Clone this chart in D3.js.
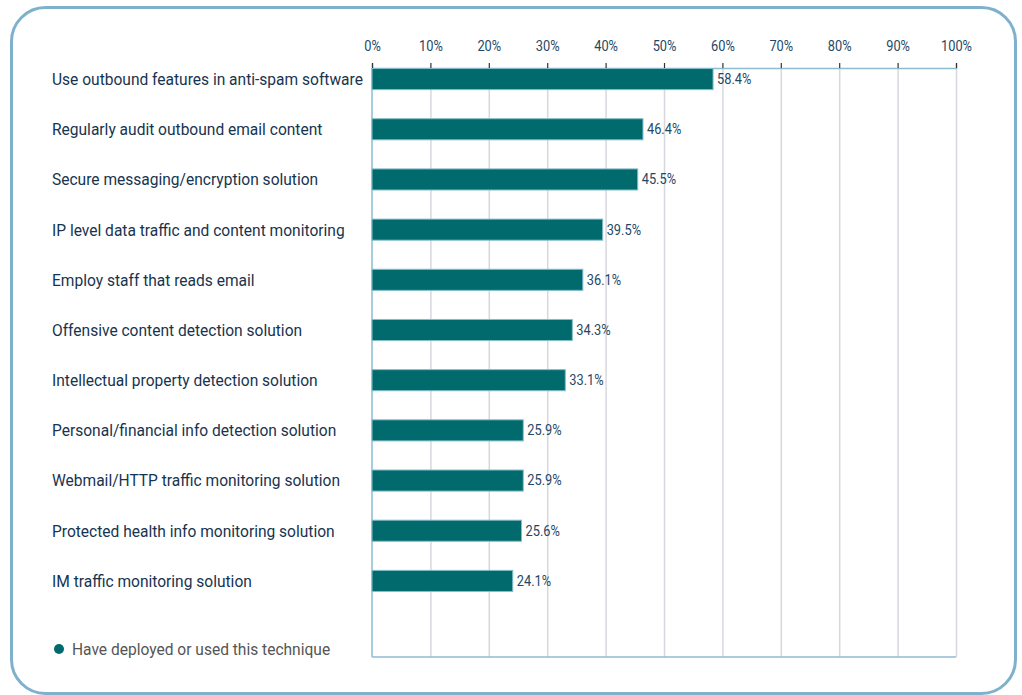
<!DOCTYPE html>
<html>
<head>
<meta charset="utf-8">
<script src="https://cdn.jsdelivr.net/npm/d3@7"></script>
<style>
  html, body { margin: 0; padding: 0; background: #ffffff; }
  svg { display: block; }
  text { font-family: Roboto, "Liberation Sans", sans-serif; }
</style>
</head>
<body>
<svg id="chart" width="1022" height="695"></svg>
<script>
// Outbound email protection techniques, share of respondents
const categories = [
  "Use outbound features in anti-spam software",
  "Regularly audit outbound email content",
  "Secure messaging/encryption solution",
  "IP level data traffic and content monitoring",
  "Employ staff that reads email",
  "Offensive content detection solution",
  "Intellectual property detection solution",
  "Personal/financial info detection solution",
  "Webmail/HTTP traffic monitoring solution",
  "Protected health info monitoring solution",
  "IM traffic monitoring solution"
];
const values = [58.4, 46.4, 45.5, 39.5, 36.1, 34.3, 33.1, 25.9, 25.9, 25.6, 24.1];
const tickValues = [0, 10, 20, 30, 40, 50, 60, 70, 80, 90, 100];
const legendLabel = "Have deployed or used this technique";

const svg = d3.select("#chart");
const squeeze = 0.915; // narrow the glyphs horizontally for a condensed look

// rounded frame
svg.append("rect")
  .attr("x", 11.5).attr("y", 7.5)
  .attr("width", 1004).attr("height", 686)
  .attr("rx", 34).attr("ry", 34)
  .attr("fill", "#ffffff")
  .attr("stroke", "#7fb1cd")
  .attr("stroke-width", 3);

const plot = { left: 372, right: 956, top: 68, bottom: 657 };
const x = d3.scaleLinear().domain([0, 100]).range([plot.left, plot.right]);
const y = d3.scaleBand().domain(categories)
  .range([54, 606]).paddingInner(0.58).paddingOuter(0.29);

// vertical gridlines
svg.append("g").selectAll("line")
  .data(tickValues.filter(d => d > 0))
  .join("line")
  .attr("x1", d => x(d) + 0.5).attr("x2", d => x(d) + 0.5)
  .attr("y1", plot.top).attr("y2", plot.bottom)
  .attr("stroke", "#d7d7de").attr("stroke-width", 1.5);

// plot frame: left and bottom edges
svg.append("line")
  .attr("x1", plot.left).attr("x2", plot.left)
  .attr("y1", plot.top).attr("y2", plot.bottom)
  .attr("stroke", "#8cbdd3").attr("stroke-width", 1.5);
svg.append("line")
  .attr("x1", plot.left).attr("x2", plot.right)
  .attr("y1", plot.bottom).attr("y2", plot.bottom)
  .attr("stroke", "#8cbdd3").attr("stroke-width", 1.5);

// top axis
const axis = d3.axisTop(x).tickValues(tickValues)
  .tickFormat(d => d + "%").tickSize(5).tickPadding(12);
const gAxis = svg.append("g")
  .attr("transform", `translate(0,${plot.top})`)
  .call(axis);
gAxis.select(".domain").attr("stroke", "#8cbdd3").attr("stroke-width", 1.5);
gAxis.selectAll(".tick line").attr("stroke", "#333333").attr("stroke-width", 1.2);
gAxis.selectAll(".tick text")
  .attr("fill", "#1f4866")
  .attr("transform", `scale(${squeeze},1)`)
  .style("font-size", "14px")
  .style("font-family", "Roboto, sans-serif");

// bars
svg.append("g").selectAll("rect")
  .data(values)
  .join("rect")
  .attr("x", x(0))
  .attr("y", (d, i) => y(categories[i]))
  .attr("width", d => x(d) - x(0))
  .attr("height", y.bandwidth())
  .attr("fill", "#006a6d")
  .attr("stroke", "#84bccb")
  .attr("stroke-width", 1);

// value labels
svg.append("g").selectAll("text")
  .data(values)
  .join("text")
  .attr("transform", (d, i) =>
    `translate(${x(d) + 4},${y(categories[i]) + y.bandwidth() / 2}) scale(${squeeze},1)`)
  .attr("dy", "0.35em")
  .attr("fill", "#1f4866")
  .style("font-size", "14px")
  .text(d => d.toFixed(1) + "%");

// category labels
svg.append("g").selectAll("text")
  .data(categories)
  .join("text")
  .attr("transform", d => `translate(52,${y(d) + y.bandwidth() / 2}) scale(${squeeze},1)`)
  .attr("dy", "0.35em")
  .attr("fill", "#17344f")
  .style("font-size", "17px")
  .text(d => d);

// legend
svg.append("circle")
  .attr("cx", 59).attr("cy", 649).attr("r", 5)
  .attr("fill", "#006a6d");
svg.append("text")
  .attr("transform", `translate(72,649) scale(${squeeze},1)`)
  .attr("dy", "0.35em")
  .attr("fill", "#555555")
  .style("font-size", "17px")
  .text(legendLabel);
</script>
</body>
</html>
